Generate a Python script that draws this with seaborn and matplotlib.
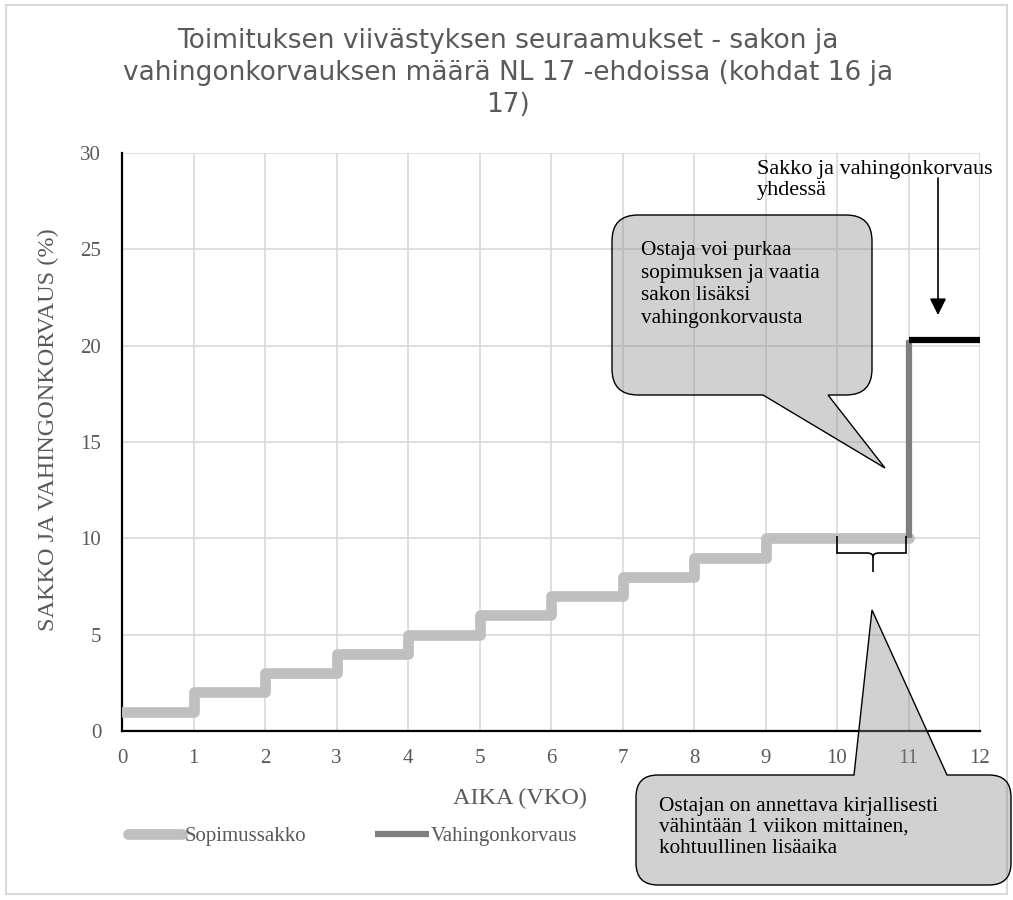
import numpy as np
import pandas as pd
import seaborn as sns
import matplotlib
matplotlib.use("Agg")
import matplotlib.pyplot as plt
from matplotlib.path import Path
from matplotlib.patches import PathPatch, Rectangle

# ---------------- data ----------------
weeks = [0, 1, 2, 3, 4, 5, 6, 7, 8, 9, 10, 11]
sopimussakko = [1, 2, 3, 4, 5, 6, 7, 8, 9, 10, 10, 10]
vahinko_weeks = [11, 11]
vahingonkorvaus = [10, 20.3]
yhdessa_weeks = [11, 12]
yhdessa = [20.3, 20.3]
x_ticks = [0, 1, 2, 3, 4, 5, 6, 7, 8, 9, 10, 11, 12]
y_ticks = [0, 5, 10, 15, 20, 25, 30]

title = ("Toimituksen viivästyksen seuraamukset - sakon ja\n"
         "vahingonkorvauksen määrä NL 17 -ehdoissa (kohdat 16 ja\n17)")
xlabel = "AIKA (VKO)"
ylabel = "SAKKO JA VAHINGONKORVAUS (%)"
note_top = "Sakko ja vahingonkorvaus\nyhdessä"
bubble1_text = "Ostaja voi purkaa\nsopimuksen ja vaatia\nsakon lisäksi\nvahingonkorvausta"
bubble2_text = "Ostajan on annettava kirjallisesti\nvähintään 1 viikon mittainen,\nkohtuullinen lisäaika"

df_sakko = pd.DataFrame({"vko": weeks, "pros": sopimussakko})
df_vah = pd.DataFrame({"vko": vahinko_weeks, "pros": vahingonkorvaus})
df_yht = pd.DataFrame({"vko": yhdessa_weeks, "pros": yhdessa})

# ---------------- style ----------------
sns.set_style("white")
SERIF = ["Liberation Serif", "DejaVu Serif"]
plt.rcParams["font.family"] = SERIF

W, H = 1013, 900
fig = plt.figure(figsize=(W / 100, H / 100), dpi=100)
ax = fig.add_axes([122 / W, 1 - 731 / H, (980 - 122) / W, (731 - 153) / H])

GREY_TXT = "#595959"
sns.lineplot(data=df_sakko, x="vko", y="pros", ax=ax, drawstyle="steps-post",
             color="#bfbfbf", lw=7.7, label="Sopimussakko", zorder=3,
             estimator=None, sort=False)
sns.lineplot(data=df_vah, x="vko", y="pros", ax=ax, color="#7f7f7f", lw=4.5,
             label="Vahingonkorvaus", zorder=4, solid_capstyle="butt",
             estimator=None, sort=False)
sns.lineplot(data=df_yht, x="vko", y="pros", ax=ax, color="black", lw=4.5,
             label="_nolegend_", zorder=5, solid_capstyle="butt",
             estimator=None, sort=False)

ax.set_xlim(0, 12)
ax.set_ylim(0, 30)
ax.set_xticks(x_ticks)
ax.set_yticks(y_ticks)
ax.grid(True, color="#d9d9d9", lw=1.2, zorder=0)
ax.set_axisbelow(True)
for s in ["top", "right"]:
    ax.spines[s].set_visible(False)
for s in ["left", "bottom"]:
    ax.spines[s].set_color("black")
    ax.spines[s].set_linewidth(1.6)
ax.tick_params(axis="both", length=0, labelsize=15, labelcolor=GREY_TXT)
ax.tick_params(axis="x", pad=13)
ax.tick_params(axis="y", pad=15)
ax.set_xlabel("")
ax.set_ylabel("")

ax.legend(loc="center left", bbox_to_anchor=(128 / W, 1 - 836 / H),
          bbox_transform=fig.transFigure, ncol=2, frameon=False,
          fontsize=15, handlelength=2.6, handletextpad=0.1,
          columnspacing=3.3, borderpad=0, borderaxespad=0,
          labelcolor=GREY_TXT)

# ---------------- overlay in pixel coords ----------------
ov = fig.add_axes([0, 0, 1, 1], zorder=10)
ov.set_xlim(0, W)
ov.set_ylim(H, 0)
ov.axis("off")
ov.patch.set_alpha(0)

# outer border
ov.add_patch(Rectangle((6, 5), W - 12, H - 11, fill=False, ec="#d9d9d9", lw=1.5))

# title and axis labels
ov.text(508, 73, title, ha="center", va="center", fontsize=19,
        color=GREY_TXT, linespacing=1.28, family="DejaVu Sans")
ov.text(520, 798, xlabel, ha="center", va="center", fontsize=17.5, color=GREY_TXT)
ov.text(48, 430, ylabel, ha="center", va="center", rotation=90,
        fontsize=17.5, color=GREY_TXT)


def bubble(x0, y0, x1, y1, r, side, b0, b1, apex):
    v = [(x0 + r, y0)]
    c = [Path.MOVETO]
    if side == "top":
        v += [(b0, y0), apex, (b1, y0)]
        c += [Path.LINETO] * 3
    v += [(x1 - r, y0), (x1, y0), (x1, y0 + r), (x1, y1 - r), (x1, y1), (x1 - r, y1)]
    c += [Path.LINETO, Path.CURVE3, Path.CURVE3, Path.LINETO, Path.CURVE3, Path.CURVE3]
    if side == "bottom":
        v += [(b1, y1), apex, (b0, y1)]
        c += [Path.LINETO] * 3
    v += [(x0 + r, y1), (x0, y1), (x0, y1 - r), (x0, y0 + r), (x0, y0), (x0 + r, y0)]
    c += [Path.LINETO, Path.CURVE3, Path.CURVE3, Path.LINETO, Path.CURVE3, Path.CURVE3]
    v.append((x0 + r, y0))
    c.append(Path.CLOSEPOLY)
    return PathPatch(Path(v, c), fc=(0.55, 0.55, 0.55, 0.4), ec="black", lw=1.0)


ov.add_patch(bubble(612, 215, 872, 395, 26, "bottom", 763, 828, (885, 468)))
ov.add_patch(bubble(636, 775, 1011, 885, 22, "top", 854, 947, (872, 610)))
ov.text(641, 241, bubble1_text, ha="left", va="top", fontsize=15.3,
        color="black", linespacing=1.26)
ov.text(659, 797, bubble2_text, ha="left", va="top", fontsize=15.3,
        color="black", linespacing=1.14)

# top note and arrow
ov.text(757, 160, note_top, ha="left", va="top", fontsize=16,
        color="black", linespacing=1.15)
ov.annotate("", xy=(938, 315), xytext=(938, 178),
            arrowprops=dict(arrowstyle="-|>", color="black", lw=1.2,
                            mutation_scale=25, shrinkA=0, shrinkB=0))

# brace under the 10 % level
bx0, bx1, by0, by1, bm, btip = 837, 906, 536, 553, 873, 572
bv = [(bx0, by0), (bx0, by1), (bx0 + 3, by1), (bm - 6, by1), (bm, by1),
      (bm, by1 + 4), (bm, btip), (bm, by1 + 4), (bm, by1), (bm + 6, by1),
      (bx1 - 3, by1), (bx1, by1), (bx1, by0)]
bc = [Path.MOVETO, Path.LINETO, Path.LINETO, Path.LINETO, Path.CURVE3,
      Path.CURVE3, Path.LINETO, Path.MOVETO, Path.CURVE3, Path.CURVE3,
      Path.LINETO, Path.LINETO, Path.LINETO]
ov.add_patch(PathPatch(Path(bv, bc), fill=False, ec="black", lw=1.2))

fig.savefig("out.png", dpi=100)
